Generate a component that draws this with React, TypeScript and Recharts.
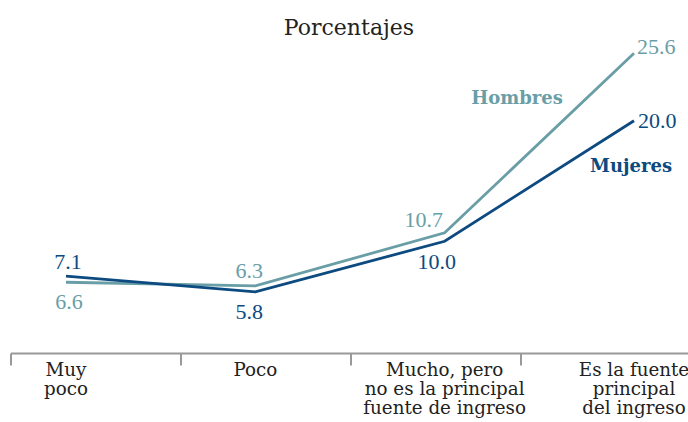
import { LineChart, Line, XAxis, YAxis, LabelList } from "recharts";

const categories = [
  "Muy poco",
  "Poco",
  "Mucho, pero no es la principal fuente de ingreso",
  "Es la fuente principal del ingreso",
];

const categoryLines = [
  ["Muy", "poco"],
  ["Poco"],
  ["Mucho, pero", "no es la principal", "fuente de ingreso"],
  ["Es la fuente", "principal", "del ingreso"],
];

const hombres = [6.6, 6.3, 10.7, 25.6];
const mujeres = [7.1, 5.8, 10.0, 20.0];

const seriesNames = { h: "Hombres", m: "Mujeres" };

const data = categories.map((c, i) => ({ cat: c, band: i, h: hombres[i], m: mujeres[i] }));

// label placement relative to each point: [dx, dy, anchor]
const hPlace: [number, number, string][] = [
  [3, 19, "middle"],
  [-6, -15, "middle"],
  [-21, -13, "middle"],
  [3, -7, "start"],
];
const mPlace: [number, number, string][] = [
  [2, -15, "middle"],
  [-6, 20, "middle"],
  [-8, 20, "middle"],
  [4, 0, "start"],
];

const TEAL = "#6a9ea6";
const NAVY = "#0c4a80";
const NUM_FONT = "'Liberation Serif', serif";
const TXT_FONT = "'DejaVu Serif', serif";

const makeLabel =
  (place: [number, number, string][], color: string, name: string, nameOff: [number, number]) =>
  (props: any) => {
    const { x, y, value, index } = props;
    const [dx, dy, anchor] = place[index];
    return (
      <g>
        <text
          x={x + dx}
          y={y + dy}
          textAnchor={anchor as any}
          dominantBaseline="central"
          fill={color}
          fontFamily={NUM_FONT}
          fontSize={22}
        >
          {Number(value).toFixed(1)}
        </text>
        {index === place.length - 1 && (
          <text
            x={x + nameOff[0]}
            y={y + nameOff[1]}
            textAnchor="middle"
            dominantBaseline="central"
            fill={color}
            fontFamily={TXT_FONT}
            fontWeight="bold"
            fontSize={18}
          >
            {name}
          </text>
        )}
      </g>
    );
  };

const CatTick = (props: any) => {
  const { x, y, index } = props;
  const lines = categoryLines[index] ?? [];
  return (
    <text
      x={x}
      textAnchor="middle"
      fill="#222"
      fontFamily={TXT_FONT}
      fontSize={18.3}
    >
      {lines.map((l, i) => (
        <tspan key={i} x={x} y={y + 23 + i * 19}>
          {l}
        </tspan>
      ))}
    </text>
  );
};

const NoTick = () => <g />;

export default function App() {
  return (
    <div style={{ position: "absolute", left: 0, top: 0, width: 688, height: 422, background: "#fff" }}>
      <div
        style={{
          position: "absolute",
          left: 0,
          width: 698,
          top: 14,
          textAlign: "center",
          fontFamily: TXT_FONT,
          fontSize: 22,
          lineHeight: "28px",
          color: "#222",
        }}
      >
        Porcentajes
      </div>
      <LineChart
        width={688}
        height={422}
        data={data}
        margin={{ top: 0, right: 0, left: 11, bottom: 0 }}
      >
        <XAxis
          xAxisId="frame"
          dataKey="band"
          type="number"
          domain={[0, 677 / 170]}
          ticks={[0, 1, 2, 3]}
          interval={0}
          tick={<NoTick />}
          height={68.5}
          tickSize={12}
          axisLine={{ stroke: "#999", strokeWidth: 2 }}
          tickLine={{ stroke: "#999", strokeWidth: 2 }}
          allowDataOverflow
        />
        <XAxis
          xAxisId="cat"
          dataKey="cat"
          height={1}
          padding={{ left: 55, right: 54 }}
          axisLine={false}
          tickLine={false}
          tickSize={0}
          tickMargin={0}
          interval={0}
          tick={<CatTick />}
        />
        <YAxis hide width={0} domain={[0.77, 30.02]} />
        <Line
          xAxisId="cat"
          dataKey="h"
          stroke={TEAL}
          strokeWidth={2.8}
          dot={false}
          isAnimationActive={false}
        >
          <LabelList dataKey="h" content={makeLabel(hPlace, TEAL, seriesNames.h, [-117, 44])} />
        </Line>
        <Line
          xAxisId="cat"
          dataKey="m"
          stroke={NAVY}
          strokeWidth={2.8}
          dot={false}
          isAnimationActive={false}
        >
          <LabelList dataKey="m" content={makeLabel(mPlace, NAVY, seriesNames.m, [-3, 45])} />
        </Line>
      </LineChart>
    </div>
  );
}
